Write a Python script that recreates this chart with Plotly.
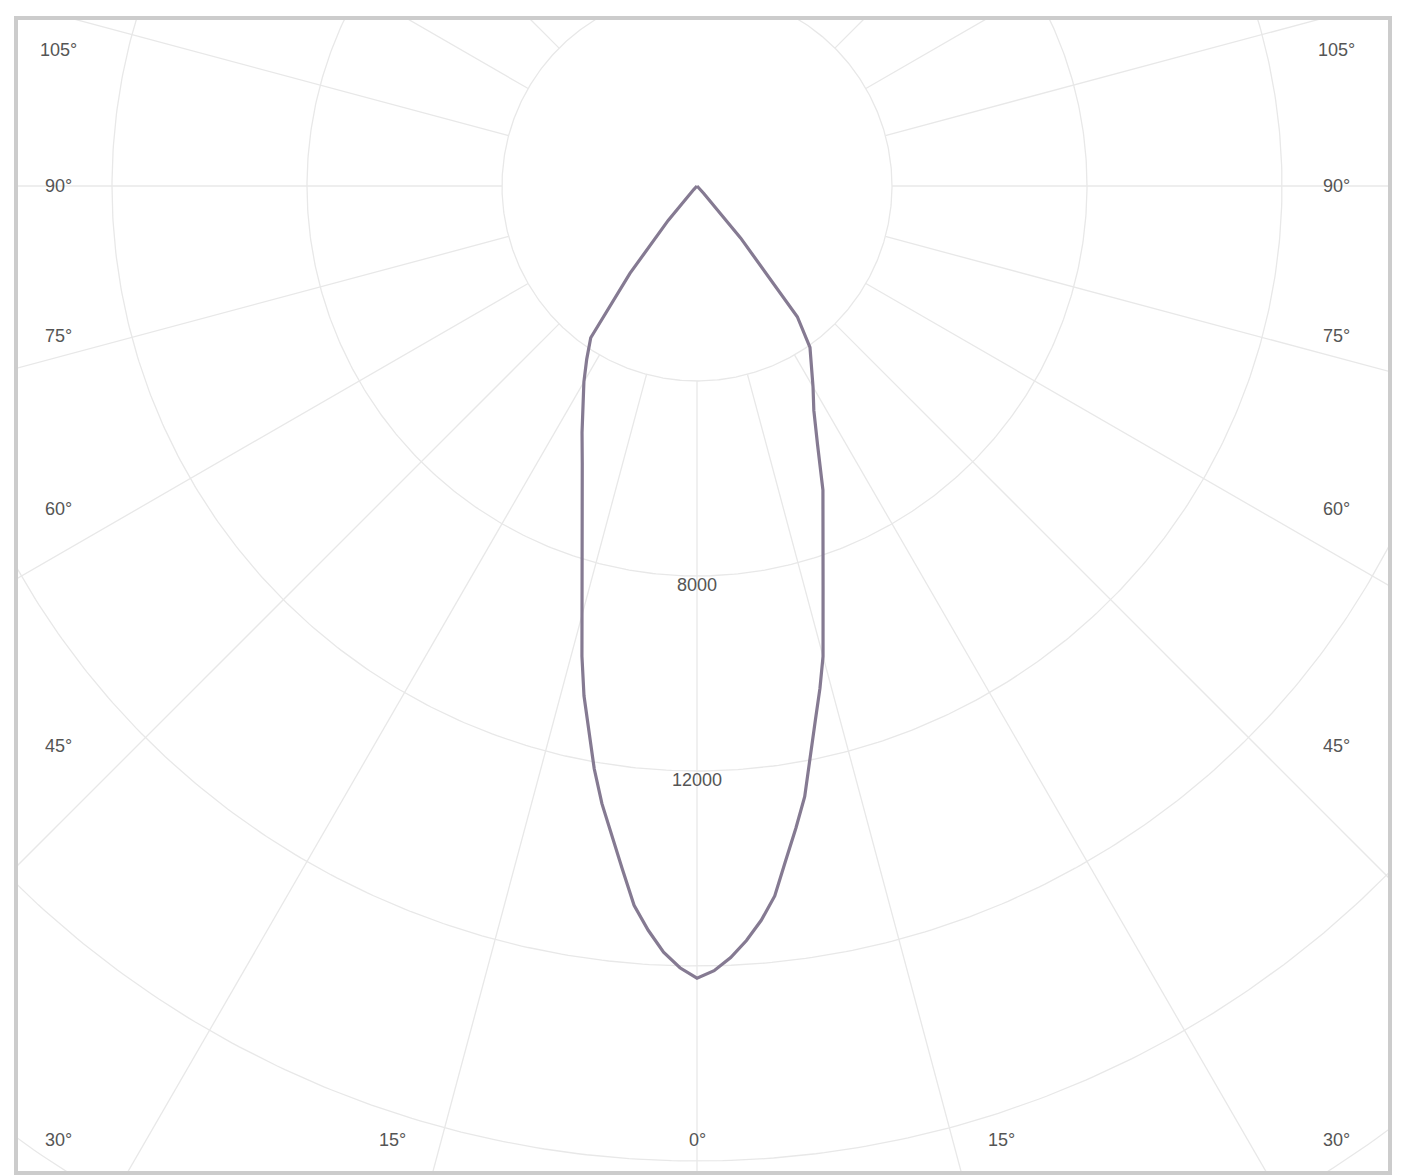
import numpy as np
import plotly.graph_objects as go

# Luminous intensity distribution (cd), gamma measured from nadir (deg)
gamma_deg = [0, 1.25, 2.5, 3.75, 5, 6.25, 7.5, 8.75, 10, 11.25, 12.5, 13.75, 15,
             17.5, 20, 22.5, 25, 27.5, 30, 32.5, 35, 37.5, 40, 42.5, 45, 60, 75, 90]
# C0 half-plane (drawn to the right of the nadir axis)
intensity_c0 = [16250, 16100, 15840, 15510, 15120, 14650, 13950, 13330, 12720,
                11900, 11220, 10610, 9990, 8600, 7550, 6750, 5850, 5190, 4760,
                4350, 4040, 3380, 1390, 200, 0, 0, 0, 0]
# C180 half-plane (drawn to the left of the nadir axis)
intensity_c180 = [16250, 16040, 15730, 15300, 14810, 14090, 13440, 12820, 12140,
                  11400, 10710, 9930, 9130, 7840, 6890, 6150, 5580, 5070, 4640,
                  4210, 3800, 2260, 920, 100, 0, 0, 0, 0]

# Polar grid
ring_values = [4000, 8000, 12000, 16000, 20000, 24000]
ring_labels = [8000, 12000]
spoke_step_deg = 15
angle_ticks = [-105, -90, -75, -60, -45, -30, -15, 0, 15, 30, 45, 60, 75, 90, 105]

# ---- layout geometry (pixels) ----
W, H = 1401, 1175
FRAME_L, FRAME_R, FRAME_T, FRAME_B = 18, 1388, 20, 1171
CX, CY = 697, 186                 # luminaire position on the page
CD_PER_PX = 4000 / 195.0          # drawing scale

x_range = [-(CX - FRAME_L) * CD_PER_PX, (FRAME_R - CX) * CD_PER_PX]
y_range = [-(FRAME_B - CY) * CD_PER_PX, (CY - FRAME_T) * CD_PER_PX]

GRID = "#e8e8e8"
CURVE = "#857a92"
TEXT = "#555555"

fig = go.Figure()

# rings
t = np.linspace(0, 2 * np.pi, 721)
for r in ring_values:
    fig.add_trace(go.Scatter(x=r * np.sin(t), y=r * np.cos(t), mode="lines",
                             line=dict(color=GRID, width=1.3),
                             hoverinfo="skip", showlegend=False))

# spokes, starting from the innermost ring
r_in, r_out = ring_values[0], 40000
for a in range(0, 360, spoke_step_deg):
    ar = np.radians(a)
    fig.add_trace(go.Scatter(x=[r_in * np.sin(ar), r_out * np.sin(ar)],
                             y=[-r_in * np.cos(ar), -r_out * np.cos(ar)],
                             mode="lines", line=dict(color=GRID, width=1.3),
                             hoverinfo="skip", showlegend=False))

# intensity curve: C180 from 90 deg down to nadir, then C0 back up to 90 deg
g = np.radians(np.array(gamma_deg))
i0 = np.array(intensity_c0, dtype=float)
i180 = np.array(intensity_c180, dtype=float)
xs = np.concatenate([(-i180 * np.sin(g))[::-1], (i0 * np.sin(g))[1:]])
ys = np.concatenate([(-i180 * np.cos(g))[::-1], (-i0 * np.cos(g))[1:]])
fig.add_trace(go.Scatter(x=xs, y=ys, mode="lines",
                         line=dict(color=CURVE, width=3.2),
                         hoverinfo="skip", showlegend=False))

annotations = []

# ring value labels along the nadir axis
for v in ring_labels:
    annotations.append(dict(x=0, y=-v, xref="x", yref="y", text=str(v),
                            showarrow=False, yanchor="middle", yshift=-9,
                            font=dict(family="Liberation Sans, Arial", size=18, color=TEXT)))

# angle labels: rays projected onto the label box, pushed to the frame edges
BOX_HALF_W = 560
BOX_DOWN = 1138
COL_OFF = 639          # label column distance from the centre
ROW_DOWN = 954         # bottom label row below the centre
ROW_UP = 136           # top label row above the centre
for a in angle_ticks:
    ar = np.radians(a)
    sx, cyd = np.sin(ar), np.cos(ar)
    t_side = BOX_HALF_W / abs(sx) if abs(sx) > 1e-9 else np.inf
    t_bot = BOX_DOWN / cyd if cyd > 1e-9 else np.inf
    if t_side <= t_bot:
        px = np.sign(sx) * COL_OFF
        py = float(np.clip(t_side * cyd, -ROW_UP, ROW_DOWN))
    else:
        px = t_bot * sx
        py = ROW_DOWN
    annotations.append(dict(x=px * CD_PER_PX, y=-py * CD_PER_PX, xref="x", yref="y",
                            text=f"{abs(a)}°", showarrow=False,
                            xanchor="center", yanchor="middle",
                            font=dict(family="Liberation Sans, Arial", size=18, color=TEXT)))

axis_common = dict(showgrid=False, zeroline=False, showticklabels=False, ticks="",
                   showline=True, mirror=True, linecolor="#cccccc", linewidth=4,
                   fixedrange=True)

fig.update_layout(
    width=W, height=H,
    margin=dict(l=FRAME_L, r=W - FRAME_R, t=FRAME_T, b=H - FRAME_B, pad=0),
    paper_bgcolor="white", plot_bgcolor="white",
    xaxis=dict(range=x_range, **axis_common),
    yaxis=dict(range=y_range, **axis_common),
    annotations=annotations,
    showlegend=False,
)

fig.write_html("out.html")
